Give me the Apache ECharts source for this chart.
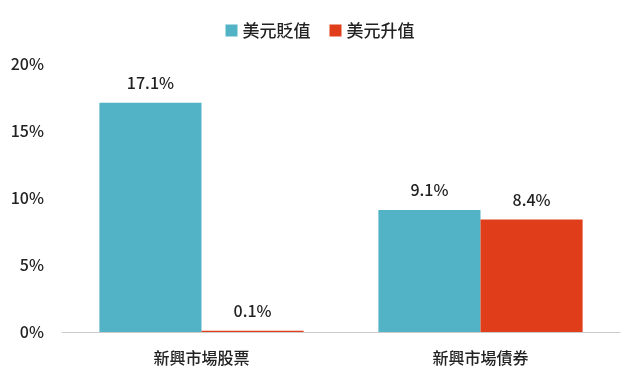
<!DOCTYPE html>
<html><head><meta charset="utf-8">
<script src="https://cdn.jsdelivr.net/npm/echarts@6/dist/echarts.min.js"></script>
<style>html,body{margin:0;padding:0;background:#fff}#c{width:640px;height:384px}</style>
</head><body><div id="c"></div>
<script>
const categories = ['新興市場股票', '新興市場債券'];
const seriesNames = ['美元貶值', '美元升值'];
const depreciation = [17.1, 9.1];
const appreciation = [0.1, 8.4];
const yTicks = [0, 5, 10, 15, 20];
const colors = ['#53B3C6', '#E03E1A'];
const font = '"Noto Sans CJK TC", "Noto Sans", sans-serif';
const chart = echarts.init(document.getElementById('c'));
const lbl = {show: true, position: 'top', formatter: p => p.value.toFixed(1) + '%', color: '#222', fontSize: 16, fontWeight: 500, fontFamily: font, distance: 12};
chart.setOption({
  animation: false,
  textStyle: {fontFamily: font},
  legend: {top: 17, left: 'center', itemWidth: 12, itemHeight: 12, itemGap: 19, icon: 'rect',
    textStyle: {fontSize: 17, fontWeight: 500, color: '#222', fontFamily: font}, data: seriesNames},
  grid: {left: 62, right: 20, top: 64, bottom: 52},
  xAxis: {type: 'category', data: categories,
    axisLine: {lineStyle: {color: '#ccc', width: 1}}, axisTick: {show: false},
    axisLabel: {fontSize: 16, fontWeight: 500, color: '#222', margin: 18, fontFamily: font}},
  yAxis: {type: 'value', min: yTicks[0], max: yTicks[yTicks.length-1], interval: 5,
    axisLine: {show: false}, axisTick: {show: false}, splitLine: {show: false},
    axisLabel: {formatter: '{value}%', fontSize: 16, fontWeight: 500, color: '#222', margin: 18, fontFamily: font}},
  series: [
    {name: seriesNames[0], type: 'bar', data: depreciation, barWidth: '36.6%', barGap: '0%', itemStyle: {color: colors[0]}, label: lbl},
    {name: seriesNames[1], type: 'bar', data: appreciation, barWidth: '36.6%', barGap: '0%', itemStyle: {color: colors[1]}, label: lbl}
  ]
});
</script></body></html>
